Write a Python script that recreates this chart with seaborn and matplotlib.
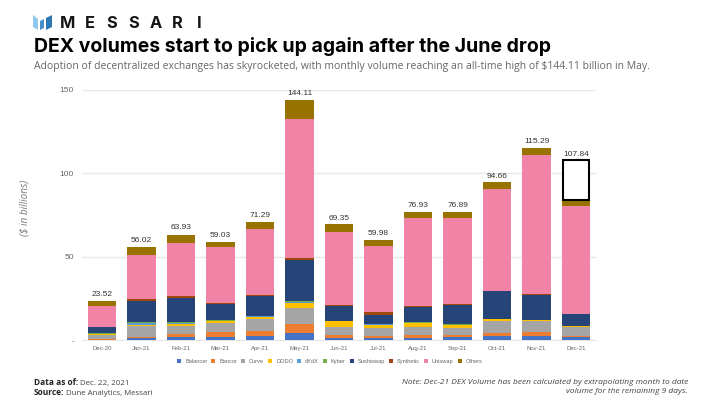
import matplotlib
matplotlib.use('Agg')
import matplotlib.pyplot as plt
from matplotlib.patches import Polygon
import numpy as np
import seaborn as sns

months = ['Dec-20', 'Jan-21', 'Feb-21', 'Mar-21', 'Apr-21', 'May-21', 'Jun-21',
          'Jul-21', 'Aug-21', 'Sep-21', 'Oct-21', 'Nov-21', 'Dec-21']
totals = [23.52, 56.02, 63.93, 59.03, 71.29, 144.11, 69.35,
          59.98, 76.93, 76.89, 94.66, 115.29, 107.84]

balancer = [0.3, 1.5, 2.2, 2.0, 2.8, 4.2, 1.6, 1.2, 1.2, 1.8, 2.8, 2.8, 2.0]
bancor = [0.3, 0.6, 1.6, 2.8, 3.0, 5.4, 1.4, 1.2, 1.8, 1.4, 1.4, 2.0, 0.8]
curve = [2.8, 6.6, 4.8, 5.6, 7.0, 10.0, 5.0, 4.8, 5.0, 4.4, 7.4, 6.6, 5.4]
dodo = [0.1, 0.2, 1.4, 1.0, 1.2, 2.6, 3.4, 2.2, 2.4, 1.6, 1.2, 0.6, 0.1]
dydx = [0.2, 1.6, 0.6, 0.3, 0.4, 0.8, 0.2, 0.2, 0.2, 0.2, 0.1, 0.1, 0.1]
kyber = [0.6, 0.7, 0.6, 0.4, 0.4, 0.4, 0.2, 0.2, 0.2, 0.1, 0.1, 0.1, 0.1]
sushiswap = [3.4, 12.2, 14.4, 9.8, 12.0, 24.8, 8.6, 5.6, 9.2, 11.4, 16.4, 15.0, 7.2]
synthetic = [0.5, 1.6, 0.8, 0.4, 0.4, 1.4, 0.8, 1.8, 0.8, 0.6, 0.2, 0.3, 0.3]
uniswap = [12.5, 26.0, 32.0, 33.4, 39.4, 83.0, 43.8, 39.6, 52.2, 51.6, 61.0, 83.8, 64.4]
others = [2.8, 4.8, 4.8, 3.2, 4.3, 11.2, 4.4, 3.4, 4.0, 3.8, 4.2, 3.8, 3.4]

names = ['Balancer', 'Bancor', 'Curve', 'DODO', 'dYdX', 'Kyber', 'Sushiswap',
         'Synthetic', 'Uniswap', 'Others']
series = [balancer, bancor, curve, dodo, dydx, kyber, sushiswap, synthetic, uniswap, others]
colors = ['#4472c4', '#ed7d31', '#a5a5a5', '#ffc000', '#5b9bd5', '#70ad47', '#264478',
          '#9e480e', '#f083a6', '#997300']

# Dec-21 month to date plus the extrapolated part (the empty box)
dec_known = sum(s[-1] for s in series)
dec_extra = totals[-1] - dec_known

sns.set_theme(style='white')
plt.rcParams['font.family'] = ['Open Sans', 'DejaVu Sans']

fig = plt.figure(figsize=(7.2, 4.05), dpi=100)
ax = fig.add_axes([82.25 / 720, 1 - 340.3 / 405, (595.75 - 82.25) / 720, 250.3 / 405])

bottom = np.zeros(len(months))
for name, vals, color in zip(names, series, colors):
    sns.barplot(x=months, y=vals, bottom=bottom, color=color, saturation=1, width=0.71,
                order=months, label=name, ax=ax, errorbar=None, linewidth=0)
    bottom += np.array(vals)

sns.barplot(x=months[-1:], y=[dec_extra], bottom=dec_known, order=months, color='white',
            saturation=1, width=0.67, edgecolor='black', linewidth=1.5, ax=ax, errorbar=None)

for i, total in enumerate(totals):
    ax.text(i, total + 1.7, f'{total:.2f}', ha='center', va='bottom', fontsize=6.0,
            family='Liberation Sans', color='#333333')

ax.set_xlim(-0.5, 12.5)
ax.set_ylim(0, 150)
ax.set_yticks([0, 50, 100, 150])
ax.set_yticklabels(['-', '50', '100', '150'], family='Liberation Sans', fontsize=6, color='#666666')
ax.tick_params(axis='x', labelsize=4.3, colors='#666666', length=0, pad=4)
ax.tick_params(axis='y', length=0, pad=6)
for lab in ax.get_xticklabels():
    lab.set_family('Liberation Sans')
ax.set_xlabel('')
ax.set_axisbelow(True)
ax.yaxis.grid(True, color='#e8e8e8', linewidth=1)
ax.xaxis.grid(False)
sns.despine(ax=ax, left=True, top=True, right=True, bottom=False)
ax.spines['bottom'].set_color('#e0e0e0')
ax.spines['bottom'].set_linewidth(0.6)

handles, labels = ax.get_legend_handles_labels()
leg = ax.legend(handles[:10], labels[:10], loc='upper center', bbox_to_anchor=(0.482, -0.062), ncol=10,
                frameon=False, fontsize=4.1, handlelength=0.7, handleheight=0.7,
                handletextpad=0.7, columnspacing=0.7, labelcolor='#666666', borderpad=0)
for t in leg.get_texts():
    t.set_family('Liberation Sans')

fig.text(25 / 720, 1 - 208 / 405, '($ in billions)', rotation=90, ha='center', va='center',
         fontsize=7.2, style='italic', color='#777777')

# header
for pts, col in [([(33, 15), (38, 19), (38, 30), (33, 27)], '#8fc7ee'),
                 ([(40, 21), (44, 19), (44, 28), (40, 30)], '#4a90c8'),
                 ([(46, 18), (52, 15), (52, 27), (46, 30)], '#2e77b5')]:
    fig.add_artist(Polygon([(x / 720, 1 - y / 405) for x, y in pts], closed=True,
                           transform=fig.transFigure, color=col, lw=0))
for letter, x in zip('MESSARI', [67.3, 90, 111.7, 133.3, 155.7, 177.3, 199]):
    fig.text(x / 720, 1 - 28 / 405, letter, fontsize=11.8, fontweight='bold', family='Inter',
             color='#151515', ha='center', va='baseline')
fig.text(34 / 720, 1 - 47 / 405, 'DEX volumes start to pick up again after the June drop',
         fontsize=14, fontweight='bold', family='Inter', color='black', va='center')
fig.text(34 / 720, 1 - 66 / 405,
         'Adoption of decentralized exchanges has skyrocketed, with monthly volume reaching an all-time high of $144.11 billion in May.',
         fontsize=7.48, color='#666666', va='center')

# footer, the plain part starts where the bold part ends
renderer = fig.canvas.get_renderer()
for head, rest, y in [('Data as of:', 'Dec. 22, 2021', 385), ('Source:', 'Dune Analytics, Messari', 395)]:
    t = fig.text(34 / 720, 1 - y / 405, head, fontsize=6, fontweight='bold', color='#222222', va='baseline')
    x_end = t.get_window_extent(renderer).x1
    fig.text(x_end / 720 + 0.002, 1 - y / 405, rest, fontsize=5.7, color='#444444', va='baseline')
fig.text(688 / 720, 1 - 387 / 405,
         'Note: Dec-21 DEX Volume has been calculated by extrapolating month to date\nvolume for the remaining 9 days.',
         fontsize=6.0, style='italic', color='#444444', ha='right', va='center', linespacing=1.35)

fig.savefig('out.png', dpi=100)
